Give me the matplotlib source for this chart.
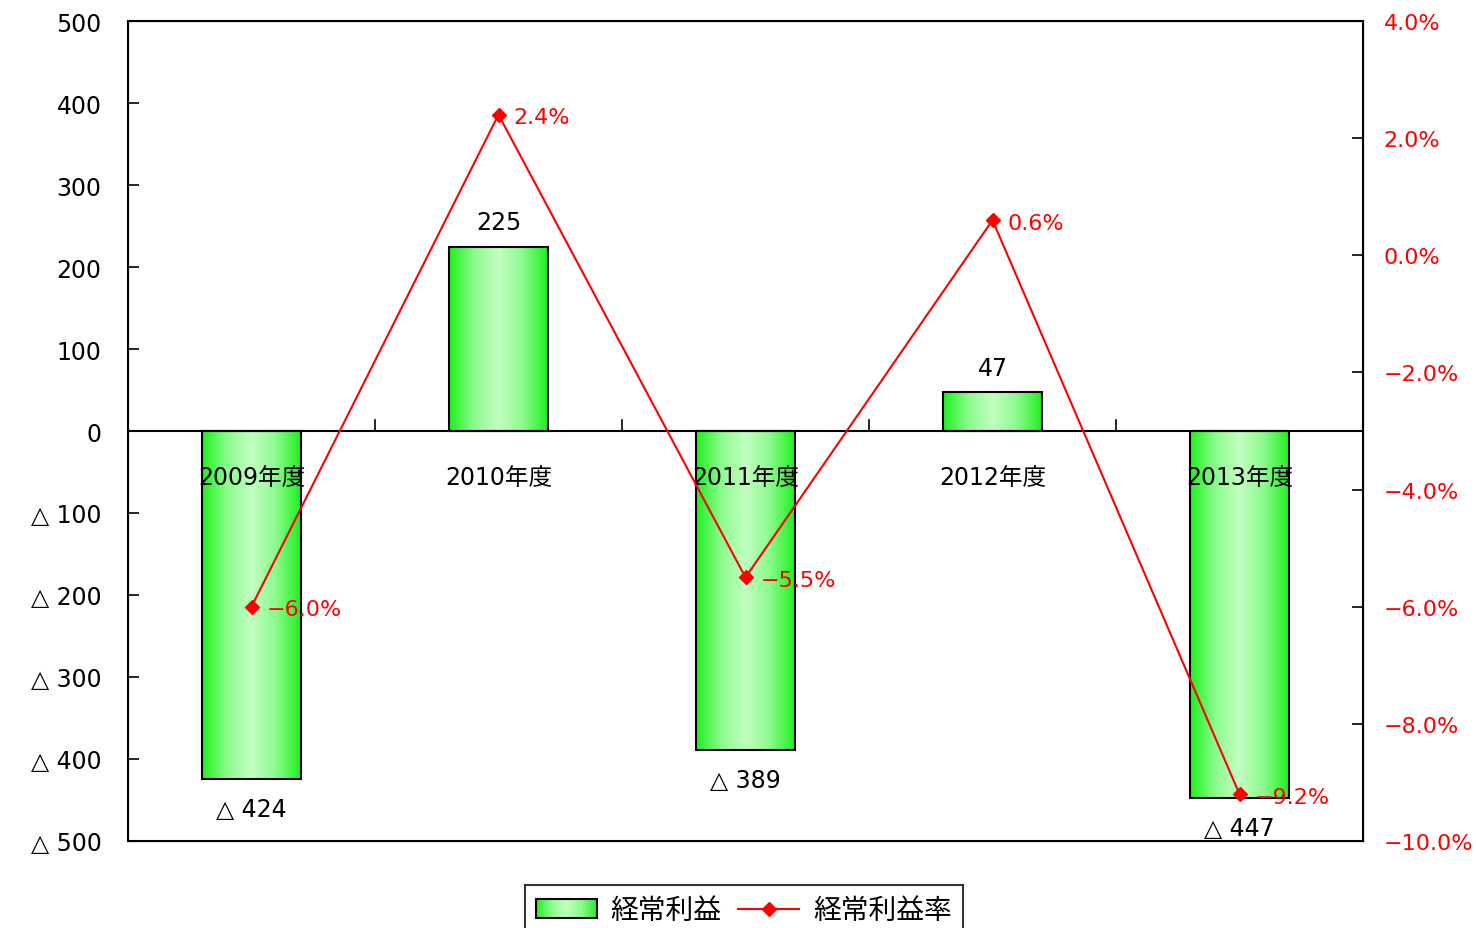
import matplotlib
matplotlib.use("Agg")
import matplotlib.pyplot as plt
import numpy as np
from matplotlib.patches import Rectangle
from matplotlib.lines import Line2D
from matplotlib.legend_handler import HandlerBase
from matplotlib.colors import LinearSegmentedColormap

# digits from DejaVu (wide like the original), kanji from Noto CJK
plt.rcParams['font.family'] = ['DejaVu Sans', 'Noto Sans CJK JP']

years = ['2009年度', '2010年度', '2011年度', '2012年度', '2013年度']
profit = [-424, 225, -389, 47, -447]
rate = [-6.0, 2.4, -5.5, 0.6, -9.2]

left_ticks = [500, 400, 300, 200, 100, 0, -100, -200, -300, -400, -500]
right_ticks = [4, 2, 0, -2, -4, -6, -8, -10]


def fmt_val(v):
    if v < 0:
        return '△ ' + str(abs(int(v)))
    return str(int(v))


def fmt_pct(v):
    s = '%.1f%%' % abs(v)
    if v < 0:
        return '\u2212' + s
    return s


green = LinearSegmentedColormap.from_list(
    'grn', ['#1ef01e', '#8bfb8b', '#c2ffc2', '#8bfb8b', '#1ef01e'])
grad = np.linspace(0, 1, 256).reshape(1, -1)

fig = plt.figure(figsize=(14.76, 9.29), dpi=100)
ax = fig.add_axes([128 / 1476, 1 - 842 / 929, (1363 - 128) / 1476, (842 - 22) / 929])

bw = 0.4
x = np.arange(len(years))
for i, v in enumerate(profit):
    ax.imshow(grad, cmap=green, aspect='auto', zorder=2,
              extent=[i - bw / 2, i + bw / 2, 0, v], interpolation='bilinear')
    ax.add_patch(Rectangle((i - bw / 2, 0), bw, v, facecolor='none',
                           edgecolor='black', linewidth=1.5, zorder=3))
    if v >= 0:
        ax.annotate(fmt_val(v), (i, v), xytext=(0, 9), textcoords='offset points',
                    ha='center', va='bottom', fontsize=17)
    else:
        ax.annotate(fmt_val(v), (i, v), xytext=(0, -13), textcoords='offset points',
                    ha='center', va='top', fontsize=17)
    ax.annotate(years[i], (i, 0), xytext=(0, -33), textcoords='offset points',
                ha='center', va='center', fontsize=17, zorder=4)

ax.set_xlim(-0.5, len(years) - 0.5)
ax.set_ylim(-500, 500)
ax.axhline(0, color='black', linewidth=1.5, zorder=4)
for b in np.arange(0.5, len(years) - 0.5, 1):
    ax.plot([b, b], [0, 14], color='black', linewidth=1.2, zorder=4)

ax.set_xticks([])
ax.set_yticks(left_ticks)
ax.set_yticklabels([fmt_val(t) for t in left_ticks], fontsize=17)
ax.tick_params(axis='y', direction='in', length=8, width=1.2, pad=19)
for s in ax.spines.values():
    s.set_linewidth(1.5)

ax2 = ax.twinx()
ax2.plot(x, rate, color='red', linewidth=1.5, marker='D', markersize=7, zorder=5)
for i, r in enumerate(rate):
    ax2.annotate(fmt_pct(r), (i, r), xytext=(11, -2), textcoords='offset points',
                 ha='left', va='center', fontsize=16, color='red')
ax2.set_ylim(-10, 4)
ax2.set_yticks(right_ticks)
ax2.set_yticklabels([fmt_pct(t) for t in right_ticks], fontsize=16, color='red')
ax2.tick_params(axis='y', direction='in', length=8, width=1.2, pad=15)
ax2.set_xlim(-0.5, len(years) - 0.5)


class GradHandler(HandlerBase):
    def create_artists(self, legend, orig_handle, xdescent, ydescent,
                       width, height, fontsize, trans):
        arts = []
        n = 30
        for k in range(n):
            c = green((k + 0.5) / n)
            arts.append(Rectangle((xdescent + width * k / n, -ydescent), width / n + 0.3,
                                  height, facecolor=c, edgecolor='none', transform=trans))
        arts.append(Rectangle((-xdescent, -ydescent), width, height, facecolor='none',
                              edgecolor='black', linewidth=1.5, transform=trans))
        return arts


bar_handle = Rectangle((0, 0), 1, 1)
line_handle = Line2D([], [], color='red', linewidth=1.5, marker='D', markersize=7)
leg = fig.legend([bar_handle, line_handle], ['経常利益', '経常利益率'],
                 handler_map={Rectangle: GradHandler()},
                 loc='upper center', bbox_to_anchor=(0.504, 0.046), ncol=2,
                 fontsize=20, frameon=True, fancybox=False, edgecolor='black',
                 handlelength=2.2, handletextpad=0.5, columnspacing=0.6,
                 borderpad=0.4, borderaxespad=0)
leg.get_frame().set_linewidth(1.5)

fig.savefig('out.png', dpi=100)
